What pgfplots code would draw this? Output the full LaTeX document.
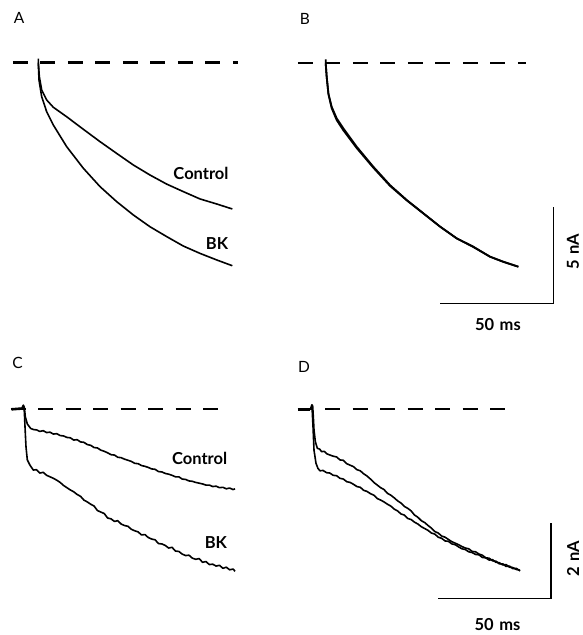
\documentclass[border=0pt]{standalone}
\usepackage{fontspec}
\setmainfont{Lato}
\usepackage{pgfplots}
\pgfplotsset{compat=1.18}
\pgfplotsset{
  panel/.style={hide axis, scale only axis, clip=false, anchor=south west, x=2.26pt},
  trace/.style={black, line width=1.6pt, line join=round, no marks},
  base/.style={black, line width=2.2pt, dash pattern=on 15pt off 12.5pt, no marks},
}
\begin{document}
\begin{tikzpicture}
\useasboundingbox (0,0) rectangle (582pt,-635pt);
\tikzset{lab/.style={font=\fontsize{15.5}{15.5}\selectfont}, txt/.style={font=\fontsize{16.5}{16.5}\selectfont\bfseries}}
\node[lab] at (19pt,-18pt) {A};
\node[lab] at (305pt,-19pt) {B};
\node[lab] at (17.5pt,-363pt) {C};
\node[lab] at (304pt,-367pt) {D};
% ---------------- A ----------------
\begin{axis}[panel, y=19.3pt, at={(11.18pt,-274.8pt)}, xmin=-12, xmax=90, ymin=-11, ymax=1]
\addplot[base] coordinates {(-11.2,0) (88.4,0)};
\addplot[trace] coordinates {(0,0.2) (0,0) (0.46,-0.73) (1.49,-1.42) (3.70,-1.94) (6.65,-2.32) (12.55,-2.81) (19.93,-3.46) (27.30,-4.10) (34.68,-4.71) (42.05,-5.31) (49.42,-5.83) (56.80,-6.30) (64.17,-6.69) (71.55,-7.07) (78.93,-7.33) (85.85,-7.59)};
\addplot[trace] coordinates {(0,0) (0.31,-0.91) (1.49,-1.77) (3.70,-2.55) (6.65,-3.24) (12.55,-4.36) (19.93,-5.48) (27.30,-6.43) (34.68,-7.21) (42.05,-7.90) (49.42,-8.51) (56.80,-9.02) (64.17,-9.51) (71.55,-9.89) (78.93,-10.23) (85.85,-10.53)};
\node[txt] at (axis cs:72.0,-5.75) {Control};
\node[txt] at (axis cs:79.1,-9.38) {BK};
\end{axis}
% ---------------- B ----------------
\begin{axis}[panel, y=19.3pt, at={(296.32pt,-333.5pt)}, xmin=-13, xmax=115, ymin=-14, ymax=1]
\addplot[base] coordinates {(-12.26,0) (88.6,0)};
\addplot[trace, line width=1.8pt] coordinates {(0,0.2) (0,0) (0.43,-0.69) (1.17,-1.56) (2.64,-2.25) (4.85,-2.85) (7.80,-3.37) (13.70,-4.32) (21.08,-5.36) (28.45,-6.31) (35.83,-7.08) (43.20,-7.77) (50.58,-8.46) (57.95,-9.07) (65.32,-9.50) (72.70,-10.02) (78.60,-10.28) (85.24,-10.54)};
\addplot[trace, line width=1.8pt] coordinates {(0,0) (0.45,-0.72) (1.25,-1.62) (2.64,-2.32) (4.85,-2.94) (7.80,-3.47) (13.70,-4.39) (21.08,-5.41) (28.45,-6.35) (35.83,-7.10) (43.20,-7.78) (50.58,-8.46) (57.95,-9.07) (65.32,-9.52) (72.70,-10.02) (78.60,-10.29) (85.24,-10.54)};
\addplot[black, line width=1.4pt, no marks] coordinates {(50.7,-12.43) (100.7,-12.43) (100.7,-7.43)};
\node[txt] at (axis cs:76.2,-13.56) {50\,\,ms};
\node[txt, rotate=90] at (axis cs:109.4,-9.78) {5\,\,nA};
\end{axis}
% ---------------- C ----------------
\begin{axis}[panel, y=37.5pt, at={(5.92pt,-578.05pt)}, xmin=-8, xmax=96, ymin=-4.5, ymax=0.5]
\addplot[base] coordinates {(-5.88,0) (85.97,0)};
\addplot[black, line width=2.6pt, no marks] coordinates {(-5.46,0) (-1.0,0.02)};
\addplot[trace] coordinates {(-5.46,0.0) (-1.0,0.02) (-0.3,0.11) (0.15,0.05) (0.59,-0.20) (1.47,-0.39) (2.95,-0.51) (4.2,-0.54) (5.6,-0.55) (7.0,-0.59) (8.5,-0.57) (10.0,-0.62) (11.5,-0.61) (13.0,-0.66) (14.5,-0.65) (16.0,-0.70) (17.5,-0.71) (19.0,-0.75) (20.5,-0.76) (22.0,-0.82) (23.5,-0.81) (25.0,-0.87) (26.5,-0.88) (28.0,-0.94) (29.5,-0.96) (31.0,-1.02) (32.5,-1.03) (34.0,-1.09) (35.5,-1.12) (37.0,-1.16) (38.5,-1.21) (40.0,-1.22) (41.5,-1.28) (43.0,-1.29) (44.5,-1.33) (46.0,-1.36) (47.5,-1.39) (49.0,-1.44) (50.5,-1.45) (52.0,-1.50) (53.5,-1.52) (55.0,-1.55) (56.5,-1.59) (58.0,-1.60) (59.5,-1.66) (61.0,-1.67) (62.5,-1.71) (64.0,-1.73) (65.5,-1.76) (67.0,-1.80) (68.5,-1.80) (70.0,-1.86) (71.5,-1.87) (73.0,-1.91) (74.5,-1.92) (76.0,-1.95) (77.5,-1.97) (79.0,-1.99) (80.5,-2.02) (82.0,-2.02) (83.5,-2.06) (85.0,-2.05) (86.5,-2.09) (88.0,-2.08) (89.5,-2.12) (91.0,-2.10) (92.5,-2.14) (93.4,-2.12)};
\addplot[trace] coordinates {(-0.3,0.11) (0.15,-0.06) (0.44,-0.46) (0.88,-1.00) (1.47,-1.35) (2.65,-1.49) (4.1,-1.62) (5.5,-1.61) (7.0,-1.70) (8.5,-1.68) (10.0,-1.76) (11.5,-1.80) (13.0,-1.84) (14.5,-1.89) (16.0,-1.95) (17.5,-2.03) (19.0,-2.09) (20.5,-2.15) (22.0,-2.20) (23.5,-2.27) (25.0,-2.32) (26.5,-2.42) (28.0,-2.47) (29.5,-2.53) (31.0,-2.58) (32.5,-2.70) (34.0,-2.74) (35.5,-2.78) (37.0,-2.90) (38.5,-2.92) (40.0,-2.99) (41.5,-2.97) (43.0,-3.06) (44.5,-3.10) (46.0,-3.12) (47.5,-3.20) (49.0,-3.24) (50.5,-3.27) (52.0,-3.35) (53.5,-3.34) (55.0,-3.42) (56.5,-3.46) (58.0,-3.48) (59.5,-3.58) (61.0,-3.59) (62.5,-3.63) (64.0,-3.70) (65.5,-3.68) (67.0,-3.78) (68.5,-3.79) (70.0,-3.86) (71.5,-3.90) (73.0,-3.89) (74.5,-3.97) (76.0,-4.00) (77.5,-3.98) (79.0,-4.08) (80.5,-4.06) (82.0,-4.14) (83.5,-4.13) (85.0,-4.18) (86.5,-4.16) (88.0,-4.24) (89.5,-4.21) (91.0,-4.28) (92.5,-4.26) (93.4,-4.32)};
\node[txt] at (axis cs:77.7,-1.30) {Control};
\node[txt] at (axis cs:84.9,-3.55) {BK};
\end{axis}
% ---------------- D ----------------
\begin{axis}[panel, y=37.5pt, at={(293.62pt,-634.3pt)}, xmin=-8, xmax=120, ymin=-6, ymax=0.5]
\addplot[base] coordinates {(-6.28,0) (85.5,0)};
\addplot[black, line width=2.6pt, no marks] coordinates {(-5.93,0) (-0.6,0)};
\addplot[trace] coordinates {(-5.93,0) (-0.6,0.0) (0.1,0.12) (0.43,0.09) (0.72,-0.20) (1.02,-0.55) (1.61,-0.86) (2.49,-1.04) (3.5,-1.06) (4.4,-1.13) (5.5,-1.12) (6.8,-1.19) (8.1,-1.22) (9.5,-1.25) (11.0,-1.27) (12.5,-1.35) (14.0,-1.36) (15.5,-1.45) (17.0,-1.49) (18.5,-1.53) (20.0,-1.61) (21.5,-1.64) (23.0,-1.72) (24.5,-1.78) (26.0,-1.86) (27.5,-1.95) (29.0,-2.02) (30.5,-2.09) (32.0,-2.14) (33.5,-2.24) (35.0,-2.29) (36.5,-2.36) (38.0,-2.44) (39.5,-2.50) (41.0,-2.59) (42.5,-2.64) (44.0,-2.71) (45.5,-2.82) (47.0,-2.88) (48.5,-2.97) (50.0,-3.02) (51.5,-3.10) (53.0,-3.17) (54.5,-3.26) (56.0,-3.30) (57.5,-3.38) (59.0,-3.41) (60.5,-3.47) (62.0,-3.53) (63.5,-3.57) (65.0,-3.61) (66.5,-3.66) (68.0,-3.70) (69.5,-3.72) (71.0,-3.79) (72.5,-3.80) (74.0,-3.86) (75.5,-3.89) (77.0,-3.96) (78.5,-3.97) (80.0,-4.04) (81.5,-4.05) (83.0,-4.12) (84.5,-4.12) (86.0,-4.19) (87.5,-4.18) (89.0,-4.25) (90.5,-4.24) (92.2,-4.31)};
\addplot[trace] coordinates {(0.1,0.12) (0.58,-0.46) (1.02,-1.09) (1.9,-1.44) (2.8,-1.58) (3.7,-1.64) (5.0,-1.63) (6.6,-1.69) (8.0,-1.70) (9.5,-1.76) (11.0,-1.77) (12.5,-1.84) (14.0,-1.86) (15.5,-1.93) (17.0,-1.95) (18.5,-2.00) (20.0,-2.06) (21.5,-2.08) (23.0,-2.16) (24.5,-2.19) (26.0,-2.25) (27.5,-2.29) (29.0,-2.38) (30.5,-2.42) (32.0,-2.47) (33.5,-2.53) (35.0,-2.58) (36.5,-2.66) (38.0,-2.71) (39.5,-2.79) (41.0,-2.82) (42.5,-2.91) (44.0,-2.94) (45.5,-3.01) (47.0,-3.06) (48.5,-3.13) (50.0,-3.18) (51.5,-3.23) (53.0,-3.30) (54.5,-3.33) (56.0,-3.41) (57.5,-3.44) (59.0,-3.51) (60.5,-3.52) (62.0,-3.59) (63.5,-3.61) (65.0,-3.67) (66.5,-3.72) (68.0,-3.74) (69.5,-3.80) (71.0,-3.82) (72.5,-3.87) (74.0,-3.88) (75.5,-3.95) (77.0,-3.96) (78.5,-4.02) (80.0,-4.01) (81.5,-4.08) (83.0,-4.09) (84.5,-4.15) (86.0,-4.14) (87.5,-4.21) (89.0,-4.22) (90.5,-4.27) (92.2,-4.29)};
\addplot[black, line width=1.4pt, no marks] coordinates {(55.9,-5.04) (105.9,-5.04) (105.9,-3.04)};
\node[txt] at (axis cs:82.2,-5.73) {50\,\,ms};
\node[txt, rotate=90] at (axis cs:115.7,-3.99) {2\,\,nA};
\end{axis}
\end{tikzpicture}
\end{document}
